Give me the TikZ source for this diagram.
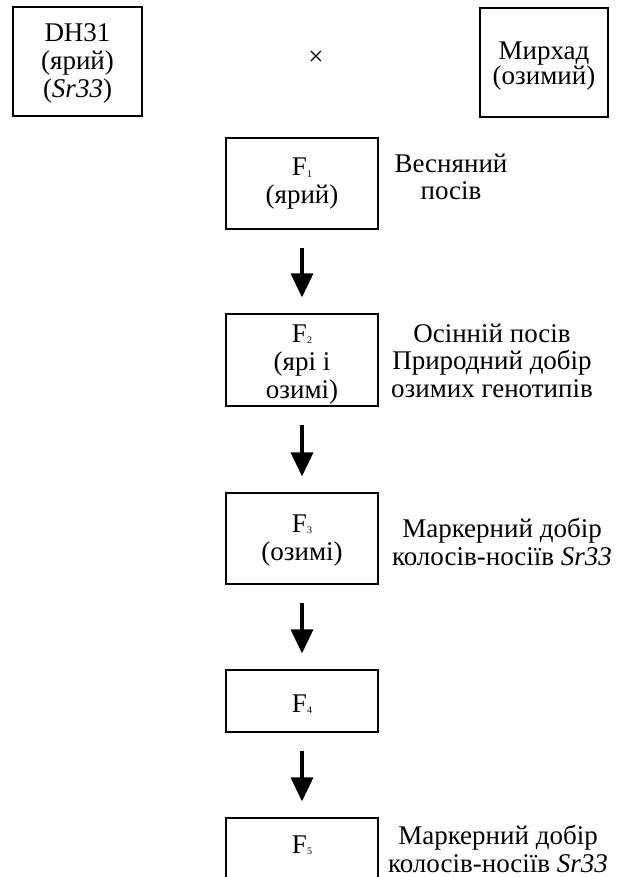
\documentclass[tikz,border=0pt]{standalone}
\usepackage{fontspec}
\setmainfont{Liberation Serif}
\usetikzlibrary{arrows.meta}
\newcommand{\gsub}[1]{\raisebox{-1.5pt}{\fontsize{10}{10}\selectfont #1}}
\begin{document}
\begin{tikzpicture}[x=1pt,y=-1pt,
  box/.style={draw, line width=1.2pt, inner sep=0pt, align=center, font=\fontsize{27}{28}\selectfont},
  note/.style={inner sep=0pt, align=center, anchor=base, font=\fontsize{27}{27.5}\selectfont},
  flow/.style={line width=3.5pt, -{Triangle[length=24pt,width=22pt]}, shorten <=18pt, shorten >=16pt}
]
\useasboundingbox (0,0) rectangle (627,877);
\clip (0,0) rectangle (627,877);

\node[box, minimum width=129, minimum height=109, text height=73pt, text depth=0pt] (dh) at (77.5,61.5) {DH31\\(ярий)\\(\textit{Sr33})};
\node[box, minimum width=128, minimum height=109, text height=45pt, text depth=0pt, font=\fontsize{27}{24}\selectfont] (mir) at (544,62.5) {Мирхад\\(озимий)};
\node[inner sep=0pt, font=\fontsize{27}{27}\selectfont] (cross) at (316,58) {×};

\node[box, minimum width=152, minimum height=91, text height=41pt, text depth=0pt] (f1) at (302,183.5) {F\gsub{1}\\(ярий)};
\node[box, minimum width=152, minimum height=92, text height=76pt, text depth=0pt] (f2) at (302,360) {F\gsub{2}\\(ярі і\\озимі)};
\node[box, minimum width=152, minimum height=91, text height=43pt, text depth=0pt] (f3) at (302,538.5) {F\gsub{3}\\(озимі)};
\node[box, minimum width=152, minimum height=62, text height=22pt, text depth=0pt] (f4) at (302,701) {F\gsub{4}};
\node[box, minimum width=152, minimum height=62, text height=17pt, text depth=9pt] (f5) at (302,849) {F\gsub{5}};

\node[note] (n1) at (451,200) {Весняний\\посів};
\node[note] (n2) at (492,397) {Осінній посів\\Природний добір\\озимих генотипів};
\node[note] (n3) at (502,565) {Маркерний добір\\колосів-носіїв \textit{Sr33}};
\node[note] (n5) at (498,872) {Маркерний добір\\колосів-носіїв \textit{Sr33}};

\draw[flow] (f1.south) -- (f2.north);
\draw[flow] (f2.south) -- (f3.north);
\draw[flow] (f3.south) -- (f4.north);
\draw[flow] (f4.south) -- (f5.north);
\end{tikzpicture}
\end{document}
